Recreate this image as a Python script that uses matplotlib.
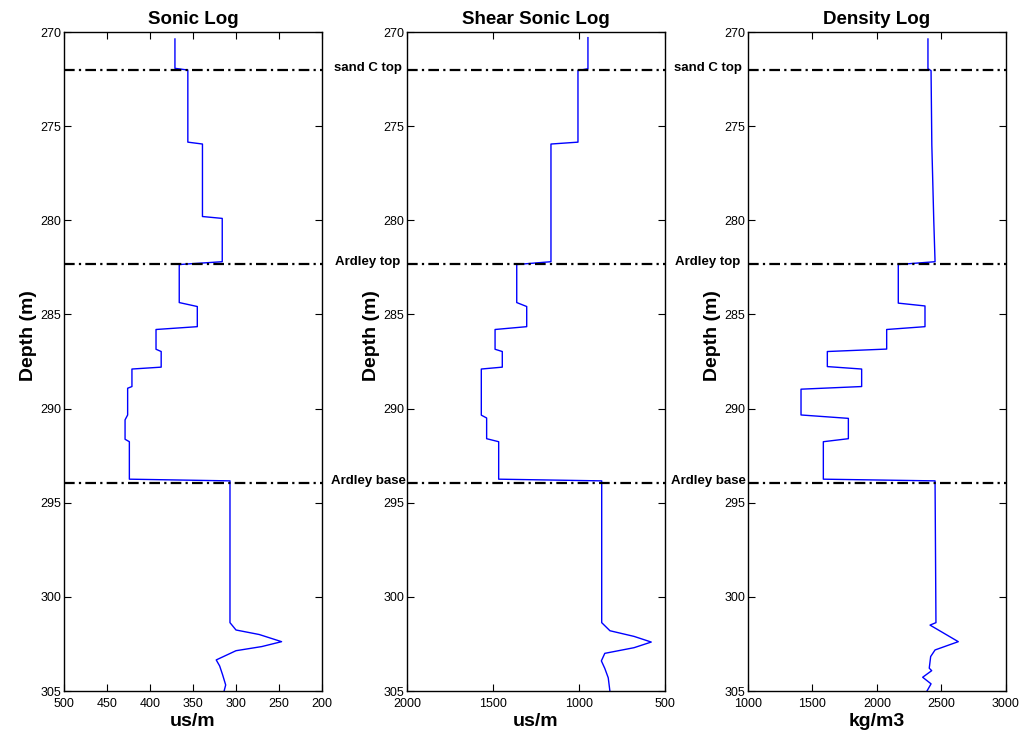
import numpy as np
import matplotlib
matplotlib.use("Agg")
import matplotlib.pyplot as plt

plt.rcParams['font.family'] = ['Liberation Sans', 'DejaVu Sans']

# formation tops (m)
top_names = ["sand C top", "Ardley top", "Ardley base"]
top_depths = [272.0, 282.3, 293.95]

# sonic log (us/m)
sonic_depth = [270.37, 271.93, 272.02, 275.85, 275.95, 279.8, 279.9, 282.2, 282.35,
               284.37, 284.58, 285.65, 285.8, 286.85, 286.97, 287.8, 287.9, 288.83,
               288.92, 290.34, 290.6, 291.63, 291.76, 293.75, 293.84, 301.37, 301.76,
               302.0, 302.38, 302.64, 302.86, 303.35, 303.67, 304.15, 304.68, 305.03]
sonic_val = [371, 371, 356, 356, 339, 339, 316, 316, 366,
             366, 345, 345, 393, 393, 387, 387, 421, 421,
             426, 426, 429, 429, 424, 424, 307, 307, 300,
             273, 247, 270, 300, 323, 319, 315.5, 312, 314]

# shear sonic log (us/m)
shear_depth = [270.3, 271.95, 272.05, 275.85, 275.95, 282.2, 282.35,
               284.37, 284.58, 285.65, 285.8, 286.85, 286.97, 287.8, 287.9,
               290.35, 290.5, 291.6, 291.76, 293.75, 293.84, 301.37, 301.8,
               302.1, 302.4, 302.7, 303.0, 303.4, 303.8, 304.3, 305.03]
shear_val = [948, 948, 1006, 1006, 1163, 1163, 1362,
             1362, 1304, 1304, 1488, 1488, 1446, 1446, 1568,
             1568, 1537, 1537, 1467, 1467, 868, 868, 820,
             680, 580, 680, 850, 870, 850, 830, 820]

# density log (kg/m3)
dens_depth = [270.37, 271.95, 272.05, 276.0, 280.0, 282.2, 282.35,
              284.4, 284.55, 285.65, 285.8, 286.84, 286.97, 287.77, 287.9,
              288.83, 288.97, 290.34, 290.52, 291.6, 291.76, 293.75, 293.84,
              301.37, 301.5, 302.38, 302.82, 303.17, 303.79, 303.92, 304.27,
              304.62, 305.03]
dens_val = [2395, 2395, 2419, 2425, 2440, 2450, 2165,
            2165, 2372, 2372, 2075, 2075, 1615, 1615, 1881,
            1881, 1411, 1411, 1778, 1778, 1584, 1584, 2450,
            2457, 2411, 2630, 2450, 2416, 2405, 2424, 2354,
            2419, 2385]

panels = [
    ("Sonic Log", sonic_depth, sonic_val, (500, 200), [500, 450, 400, 350, 300, 250, 200], "us/m"),
    ("Shear Sonic Log", shear_depth, shear_val, (2000, 500), [2000, 1500, 1000, 500], "us/m"),
    ("Density Log", dens_depth, dens_val, (1000, 3000), [1000, 1500, 2000, 2500, 3000], "kg/m3"),
]
lefts = [64 / 1020, 407 / 1020, 748 / 1020]

fig = plt.figure(figsize=(10.2, 7.32), dpi=100)
for (title, d, v, xl, xt, xlab), left in zip(panels, lefts):
    ax = fig.add_axes([left, 1 - 691 / 732, 258 / 1020, 659 / 732])
    ax.plot(v, d, color='b', lw=1)
    for td in top_depths:
        ax.plot(xl, [td, td], color='k', lw=1.6, dashes=(4.8, 1.9, 1, 1.9))
    ax.set_xlim(xl)
    ax.set_ylim(305, 270)
    ax.set_xticks(xt)
    ax.set_yticks(np.arange(270, 306, 5))
    ax.tick_params(direction='in', top=True, right=True, length=5, labelsize=9, pad=2)
    ax.tick_params(axis='x', pad=5)
    ax.set_title(title, fontsize=13.5, fontweight='bold', pad=6)
    ax.set_ylabel("Depth (m)", fontsize=14, fontweight='bold')
    ax.yaxis.set_label_coords(-0.105, 0.54)
    ax.set_xlabel(xlab, fontsize=14, fontweight='bold', labelpad=2)
    for s in ax.spines.values():
        s.set_linewidth(1)

# labels between panels
for gx in [368 / 1020, 708 / 1020]:
    for name, td in zip(top_names, top_depths):
        ypix = 32 + (td - 270) / 35 * 659 - 2
        fig.text(gx, 1 - ypix / 732, name, ha='center', va='center',
                 fontsize=9.5, fontweight='bold')

fig.savefig("out.png", dpi=100)
